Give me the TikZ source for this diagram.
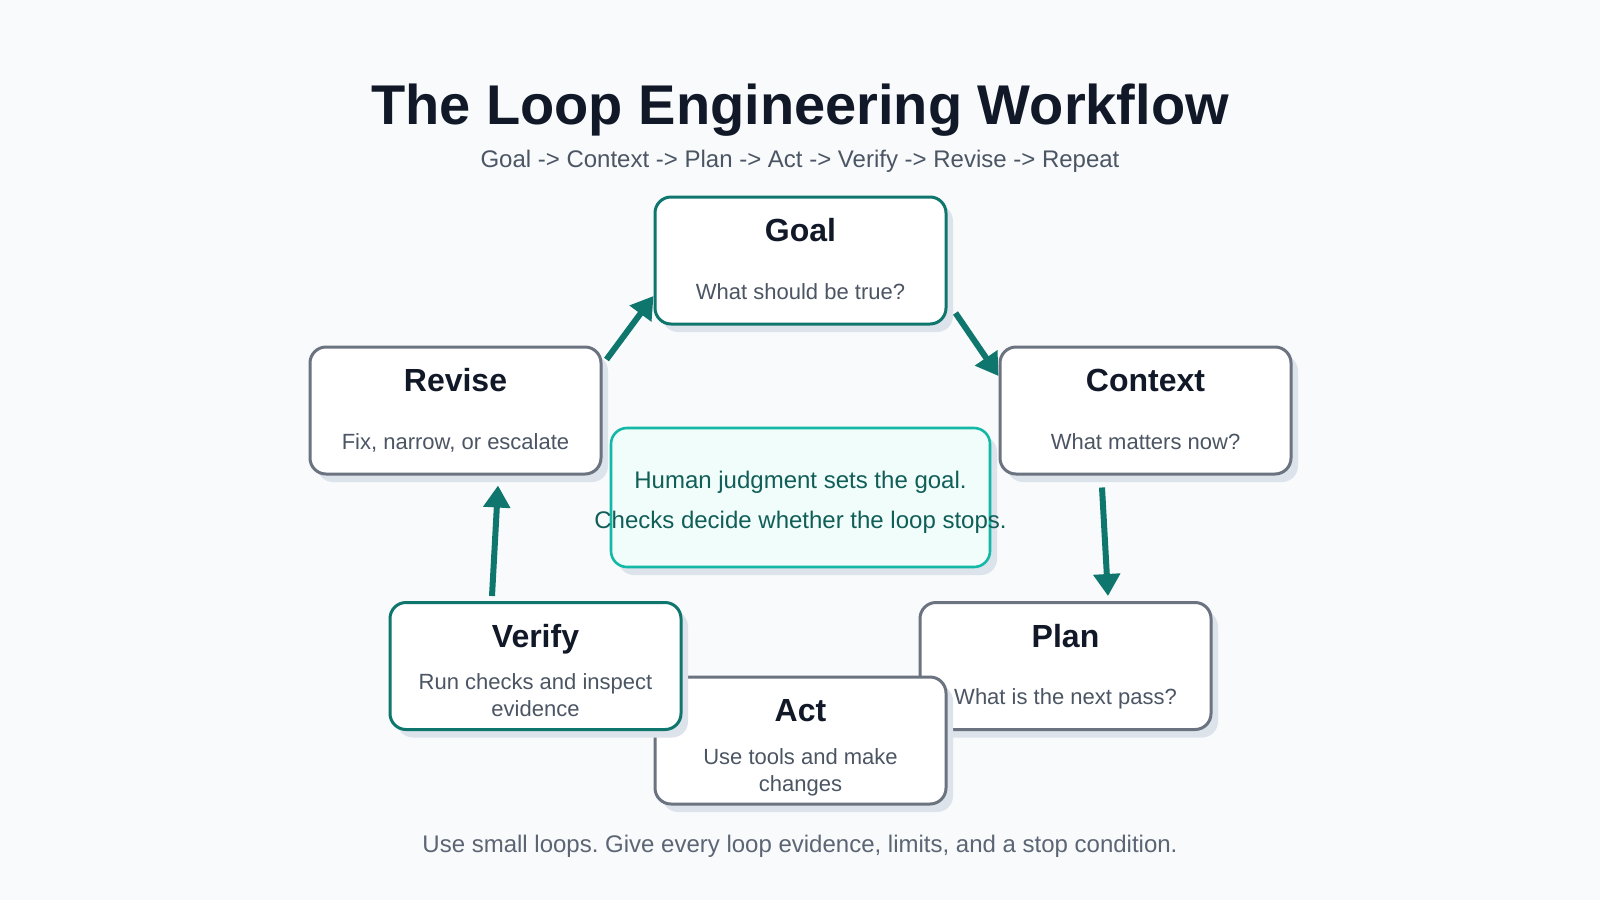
\documentclass[tikz,border=0pt]{standalone}
\usepackage{fontspec}
\setmainfont{Liberation Sans}
\frenchspacing
\usetikzlibrary{arrows.meta,shadows,calc}

\definecolor{pagebg}{HTML}{F8FAFC}
\definecolor{ink}{HTML}{111827}
\definecolor{muted}{HTML}{4B5563}
\definecolor{footgray}{HTML}{5B6574}
\definecolor{loopteal}{HTML}{0F766E}
\definecolor{cardgray}{HTML}{6B7280}
\definecolor{cardshadow}{HTML}{DCE3EA}
\definecolor{noteline}{HTML}{14B8A6}
\definecolor{notefill}{HTML}{F0FDFA}
\definecolor{noteink}{HTML}{115E59}

\begin{document}
\begin{tikzpicture}[x=1pt, y=-1pt,
    card/.style={rectangle, draw=cardgray, line width=3pt, rounded corners=16pt, fill=white,
      minimum width=291pt, minimum height=127pt, inner sep=0pt,
      general shadow={fill=cardshadow, shadow xshift=7pt, shadow yshift=-8pt}},
    keycard/.style={card, draw=loopteal},
    notebox/.style={card, draw=noteline, fill=notefill, line width=2.6pt,
      minimum width=379pt, minimum height=139pt},
    cardtitle/.style={anchor=base, font=\fontsize{32}{38}\selectfont\bfseries, text=ink},
    cardtext/.style={align=center, font=\fontsize{22}{27}\selectfont, text=muted,
      execute at begin node=\strut, execute at end node=\strut},
    loopstep/.style={draw=loopteal, line width=6pt, -{Triangle[width=26pt,length=22pt]}}]

  \fill[pagebg] (0,0) rectangle (1600,900);
  \useasboundingbox (0,0) rectangle (1600,900);

  % heading
  \node (title) [anchor=base, font=\fontsize{56}{64}\selectfont\bfseries, text=ink] at (800,124)
    {The Loop Engineering Workflow};
  \node (subtitle) [anchor=base, font=\fontsize{24}{29}\selectfont, text=muted] at (800,167.5)
    {Goal -> Context -> Plan -> Act -> Verify -> Revise -> Repeat};

  % loop steps
  \node (goal) [keycard] at (800.5,260.5) {};
  \node (goaltitle) [cardtitle] at ([yshift=-46pt]goal.north) {Goal};
  \node (goaltext) [cardtext] at ([yshift=-98.3pt]goal.north) {What should be true?};

  \node (revise) [card] at (455.5,410.5) {};
  \node (revisetitle) [cardtitle] at ([yshift=-46pt]revise.north) {Revise};
  \node (revisetext) [cardtext] at ([yshift=-98.3pt]revise.north) {Fix, narrow, or escalate};

  \node (context) [card] at (1145.5,410.5) {};
  \node (contexttitle) [cardtitle] at ([yshift=-46pt]context.north) {Context};
  \node (contexttext) [cardtext] at ([yshift=-98.3pt]context.north) {What matters now?};

  \node (note) [notebox] at (800.5,497.5) {};
  \node (notetext) [align=center, font=\fontsize{24}{40}\selectfont, text=noteink] at (800.5,502)
    {Human judgment sets the goal.\\Checks decide whether the loop stops.};

  \node (plan) [card] at (1065.5,666) {};
  \node (plantitle) [cardtitle] at ([yshift=-46pt]plan.north) {Plan};
  \node (plantext) [cardtext] at ([yshift=-98.3pt]plan.north) {What is the next pass?};

  \node (act) [card] at (800.5,740.5) {};
  \node (acttitle) [cardtitle] at ([yshift=-46pt]act.north) {Act};
  \node (acttext) [cardtext] at ([yshift=-98.3pt]act.north) {Use tools and make\\changes};

  \node (verify) [keycard] at (535.5,666) {};
  \node (verifytitle) [cardtitle] at ([yshift=-46pt]verify.north) {Verify};
  \node (verifytext) [cardtext] at ([yshift=-98.3pt]verify.north) {Run checks and inspect\\evidence};

  % connectors
  \draw[loopstep] ($(revise.north east)+(4,14)$) -- ($(goal.west)+(0,35.5)$);
  \draw[loopstep] ($(goal.east)+(8,52.5)$) -- ($(context.west)+(0,-34.5)$);
  \draw[loopstep] ($(context.south)+(-43.5,12)$) -- ($(plan.north)+(42.5,-5)$);
  \draw[loopstep] ($(verify.north)+(-43.5,-5)$) -- ($(revise.south)+(42.5,10)$);

  % footer
  \node (footer) [anchor=base, font=\fontsize{24}{29}\selectfont, text=footgray] at (800,852.5)
    {Use small loops. Give every loop evidence, limits, and a stop condition.};
\end{tikzpicture}
\end{document}
